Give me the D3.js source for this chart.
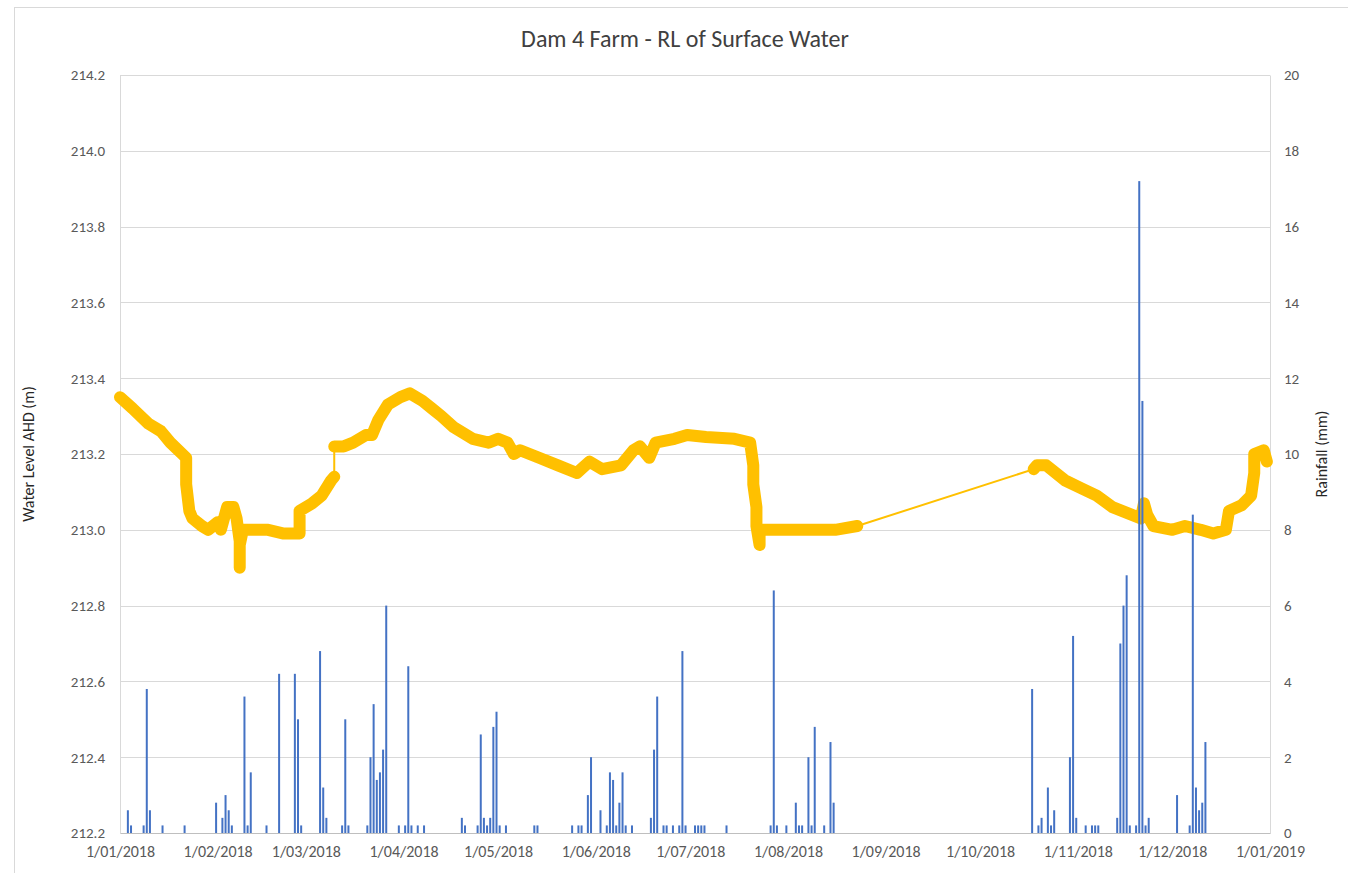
<!DOCTYPE html>
<html>
<head>
<meta charset="utf-8">
<script src="https://cdn.jsdelivr.net/npm/d3@7"></script>
<style>
  body { margin: 0; background: #fff; }
  svg text { font-family: Carlito, Lato, "Open Sans", sans-serif; }
</style>
</head>
<body>
<svg id="chart" width="1348" height="873"></svg>
<script>
// water level (m AHD)
const levelDates = [
  '2018-01-01','2018-01-05','2018-01-10','2018-01-14','2018-01-17','2018-01-22','2018-01-22','2018-01-23','2018-01-24','2018-01-27',
  '2018-01-29','2018-02-01','2018-02-02','2018-02-04','2018-02-06','2018-02-07','2018-02-08','2018-02-08','2018-02-08','2018-02-09',
  '2018-02-17','2018-02-22','2018-02-27','2018-02-27','2018-03-03','2018-03-06','2018-03-09','2018-03-10','2018-03-10','2018-03-13',
  '2018-03-16','2018-03-20','2018-03-22','2018-03-24','2018-03-27','2018-03-31','2018-04-03','2018-04-07','2018-04-10','2018-04-13',
  '2018-04-17','2018-04-23','2018-04-28','2018-05-01','2018-05-04','2018-05-06','2018-05-08','2018-05-14','2018-05-20','2018-05-26',
  '2018-05-30','2018-06-03','2018-06-09','2018-06-13','2018-06-15','2018-06-18','2018-06-20','2018-06-26','2018-06-30','2018-07-06',
  '2018-07-15','2018-07-20','2018-07-21','2018-07-21','2018-07-22','2018-07-22','2018-07-23','2018-07-23','2018-07-30','2018-08-09',
  '2018-08-16','2018-08-23','2018-10-18','2018-10-19','2018-10-22','2018-10-28','2018-11-02','2018-11-07','2018-11-12','2018-11-18',
  '2018-11-21','2018-11-22','2018-11-23','2018-11-25','2018-12-01','2018-12-05','2018-12-10','2018-12-14','2018-12-18','2018-12-19',
  '2018-12-23','2018-12-26','2018-12-27','2018-12-27','2018-12-30','2018-12-31'
];
const levelValues = [
  213.35, 213.32, 213.28, 213.26, 213.23, 213.19, 213.12, 213.05, 213.03, 213.01,
  213.00, 213.02, 213.00, 213.06, 213.06, 213.03, 212.97, 212.90, 212.96, 213.00,
  213.00, 212.99, 212.99, 213.05, 213.07, 213.09, 213.13, 213.14, 213.22, 213.22,
  213.23, 213.25, 213.25, 213.29, 213.33, 213.35, 213.36, 213.34, 213.32, 213.30,
  213.27, 213.24, 213.23, 213.24, 213.23, 213.20, 213.21, 213.19, 213.17, 213.15,
  213.18, 213.16, 213.17, 213.21, 213.22, 213.19, 213.23, 213.24, 213.25, 213.245,
  213.24, 213.23, 213.17, 213.12, 213.06, 213.01, 212.96, 213.00, 213.00, 213.00,
  213.00, 213.01, 213.16, 213.17, 213.17, 213.13, 213.11, 213.09, 213.06, 213.04,
  213.03, 213.07, 213.04, 213.01, 213.00, 213.01, 213.00, 212.99, 213.00, 213.05,
  213.065, 213.09, 213.15, 213.20, 213.21, 213.18
];

// daily rainfall (mm)
const rainDates = [
  '2018-01-03','2018-01-04','2018-01-08','2018-01-09','2018-01-10','2018-01-14','2018-01-21','2018-01-31','2018-02-02','2018-02-03',
  '2018-02-04','2018-02-05','2018-02-09','2018-02-10','2018-02-11','2018-02-16','2018-02-20','2018-02-25','2018-02-26','2018-02-27',
  '2018-03-05','2018-03-06','2018-03-07','2018-03-12','2018-03-13','2018-03-14','2018-03-20','2018-03-21','2018-03-22','2018-03-23',
  '2018-03-24','2018-03-25','2018-03-26','2018-03-30','2018-04-01','2018-04-02','2018-04-03','2018-04-05','2018-04-07','2018-04-19',
  '2018-04-20','2018-04-24','2018-04-25','2018-04-26','2018-04-27','2018-04-28','2018-04-29','2018-04-30','2018-05-01','2018-05-03',
  '2018-05-12','2018-05-13','2018-05-24','2018-05-26','2018-05-27','2018-05-29','2018-05-30','2018-06-02','2018-06-04','2018-06-05',
  '2018-06-06','2018-06-07','2018-06-08','2018-06-09','2018-06-10','2018-06-12','2018-06-18','2018-06-19','2018-06-20','2018-06-22',
  '2018-06-23','2018-06-25','2018-06-27','2018-06-28','2018-06-29','2018-07-02','2018-07-03','2018-07-04','2018-07-05','2018-07-12',
  '2018-07-26','2018-07-27','2018-07-28','2018-07-31','2018-08-03','2018-08-04','2018-08-05','2018-08-07','2018-08-08','2018-08-09',
  '2018-08-12','2018-08-14','2018-08-15','2018-10-17','2018-10-19','2018-10-20','2018-10-22','2018-10-23','2018-10-24','2018-10-29',
  '2018-10-30','2018-10-31','2018-11-03','2018-11-05','2018-11-06','2018-11-07','2018-11-13','2018-11-14','2018-11-15','2018-11-16',
  '2018-11-17','2018-11-19','2018-11-20','2018-11-21','2018-11-22','2018-11-23','2018-12-02','2018-12-06','2018-12-07','2018-12-08',
  '2018-12-09','2018-12-10','2018-12-11'
];
const rainValues = [
  0.6, 0.2, 0.2, 3.8, 0.6, 0.2, 0.2, 0.8, 0.4, 1.0,
  0.6, 0.2, 3.6, 0.2, 1.6, 0.2, 4.2, 4.2, 3.0, 0.2,
  4.8, 1.2, 0.4, 0.2, 3.0, 0.2, 0.2, 2.0, 3.4, 1.4,
  1.6, 2.2, 6.0, 0.2, 0.2, 4.4, 0.2, 0.2, 0.2, 0.4,
  0.2, 0.2, 2.6, 0.4, 0.2, 0.4, 2.8, 3.2, 0.2, 0.2,
  0.2, 0.2, 0.2, 0.2, 0.2, 1.0, 2.0, 0.6, 0.2, 1.6,
  1.4, 0.2, 0.8, 1.6, 0.2, 0.2, 0.4, 2.2, 3.6, 0.2,
  0.2, 0.2, 0.2, 4.8, 0.2, 0.2, 0.2, 0.2, 0.2, 0.2,
  0.2, 6.4, 0.2, 0.2, 0.8, 0.2, 0.2, 2.0, 0.2, 2.8,
  0.2, 2.4, 0.8, 3.8, 0.2, 0.4, 1.2, 0.2, 0.6, 2.0,
  5.2, 0.4, 0.2, 0.2, 0.2, 0.2, 0.4, 5.0, 6.0, 6.8,
  0.2, 0.2, 17.2, 11.4, 0.2, 0.4, 1.0, 0.2, 8.4, 1.2,
  0.6, 0.8, 2.4
];

const levelTicks = [212.2, 212.4, 212.6, 212.8, 213.0, 213.2, 213.4, 213.6, 213.8, 214.0, 214.2];
const rainTicks = [0, 2, 4, 6, 8, 10, 12, 14, 16, 18, 20];
const monthTicks = ['2018-01-01','2018-02-01','2018-03-01','2018-04-01','2018-05-01','2018-06-01',
  '2018-07-01','2018-08-01','2018-09-01','2018-10-01','2018-11-01','2018-12-01','2019-01-01'];

const chartTitle = 'Dam 4 Farm - RL of Surface Water';
const leftTitle = 'Water Level AHD (m)';
const rightTitle = 'Rainfall (mm)';

const parse = d3.timeParse('%Y-%m-%d');
const margin = { top: 75, right: 78, bottom: 40, left: 120 };
const width = 1348, height = 873;
const plotRight = width - margin.right;
const plotBottom = height - margin.bottom;

const svg = d3.select('#chart');

// chart area border
svg.append('rect')
  .attr('x', 14.5).attr('y', 7.5)
  .attr('width', width + 20).attr('height', height + 20)
  .attr('fill', '#fff').attr('stroke', '#d9d9d9');

const x = d3.scaleTime()
  .domain([parse('2018-01-01'), parse('2019-01-01')])
  .range([margin.left, plotRight]);
const yL = d3.scaleLinear().domain([212.2, 214.2]).range([plotBottom, margin.top]);
const yR = d3.scaleLinear().domain([0, 20]).range([plotBottom, margin.top]);

// gridlines
svg.append('g').selectAll('line')
  .data(levelTicks.slice(1))
  .enter().append('line')
  .attr('x1', margin.left).attr('x2', plotRight)
  .attr('y1', d => Math.round(yL(d)) + 0.5).attr('y2', d => Math.round(yL(d)) + 0.5)
  .attr('stroke', '#d9d9d9').attr('stroke-width', 1);

// axes
const leftAxis = svg.append('g')
  .attr('transform', 'translate(' + margin.left + ',0)')
  .call(d3.axisLeft(yL).tickValues(levelTicks).tickFormat(d3.format('.1f')).tickSize(0).tickPadding(15));
const rightAxis = svg.append('g')
  .attr('transform', 'translate(' + plotRight + ',0)')
  .call(d3.axisRight(yR).tickValues(rainTicks).tickSize(0).tickPadding(14));
const bottomAxis = svg.append('g')
  .attr('transform', 'translate(0,' + plotBottom + ')')
  .call(d3.axisBottom(x).tickValues(monthTicks.map(parse)).tickFormat(d3.timeFormat('%-d/%m/%Y')).tickSize(0).tickPadding(13));

[leftAxis, rightAxis, bottomAxis].forEach(a => {
  a.select('.domain').attr('stroke', '#d9d9d9');
  a.selectAll('text').attr('fill', '#595959').style('font-size', '15px');
});
bottomAxis.selectAll('text').style('font-size', '16px');
bottomAxis.select('.domain').attr('stroke', '#bfbfbf');

// water level: thin connecting line + thick band where readings are dense
const levelData = levelDates.map((d, i) => ({ date: parse(d), v: levelValues[i] }));
const line = d3.line().x(d => x(d.date)).y(d => yL(d.v));

svg.append('path')
  .datum(levelData)
  .attr('fill', 'none')
  .attr('stroke', '#ffc000')
  .attr('stroke-width', 2)
  .attr('d', line);

let segments = [[levelData[0]]];
for (let i = 1; i < levelData.length; i++) {
  const prev = levelData[i - 1], cur = levelData[i];
  const gapDays = (cur.date - prev.date) / 864e5;
  if (gapDays > 10 || Math.abs(cur.v - prev.v) > 0.075) segments.push([]);
  segments[segments.length - 1].push(cur);
}
svg.append('g').selectAll('path')
  .data(segments)
  .enter().append('path')
  .attr('fill', 'none')
  .attr('stroke', '#ffc000')
  .attr('stroke-width', 12)
  .attr('stroke-linejoin', 'round')
  .attr('stroke-linecap', 'round')
  .attr('d', d => d.length > 1 ? line(d) : line([d[0], d[0]]));

// rainfall bars
const rainData = rainDates.map((d, i) => ({ date: parse(d), v: rainValues[i] }));
const dayW = x(parse('2018-01-02')) - x(parse('2018-01-01'));
svg.append('g').selectAll('rect')
  .data(rainData)
  .enter().append('rect')
  .attr('x', d => x(d.date) + dayW / 2 - 1)
  .attr('width', 2)
  .attr('y', d => yR(d.v))
  .attr('height', d => plotBottom - yR(d.v))
  .attr('fill', '#4472c4');

// titles
svg.append('text')
  .attr('x', 685).attr('y', 47)
  .attr('text-anchor', 'middle')
  .attr('fill', '#404040')
  .style('font-size', '24px')
  .text(chartTitle);

svg.append('text')
  .attr('transform', 'translate(34,' + (margin.top + plotBottom) / 2 + ') rotate(-90)')
  .attr('text-anchor', 'middle')
  .attr('fill', '#262626')
  .style('font-size', '16px')
  .text(leftTitle);

svg.append('text')
  .attr('transform', 'translate(1327,' + (margin.top + plotBottom) / 2 + ') rotate(-90)')
  .attr('text-anchor', 'middle')
  .attr('fill', '#262626')
  .style('font-size', '16px')
  .text(rightTitle);
</script>
</body>
</html>
